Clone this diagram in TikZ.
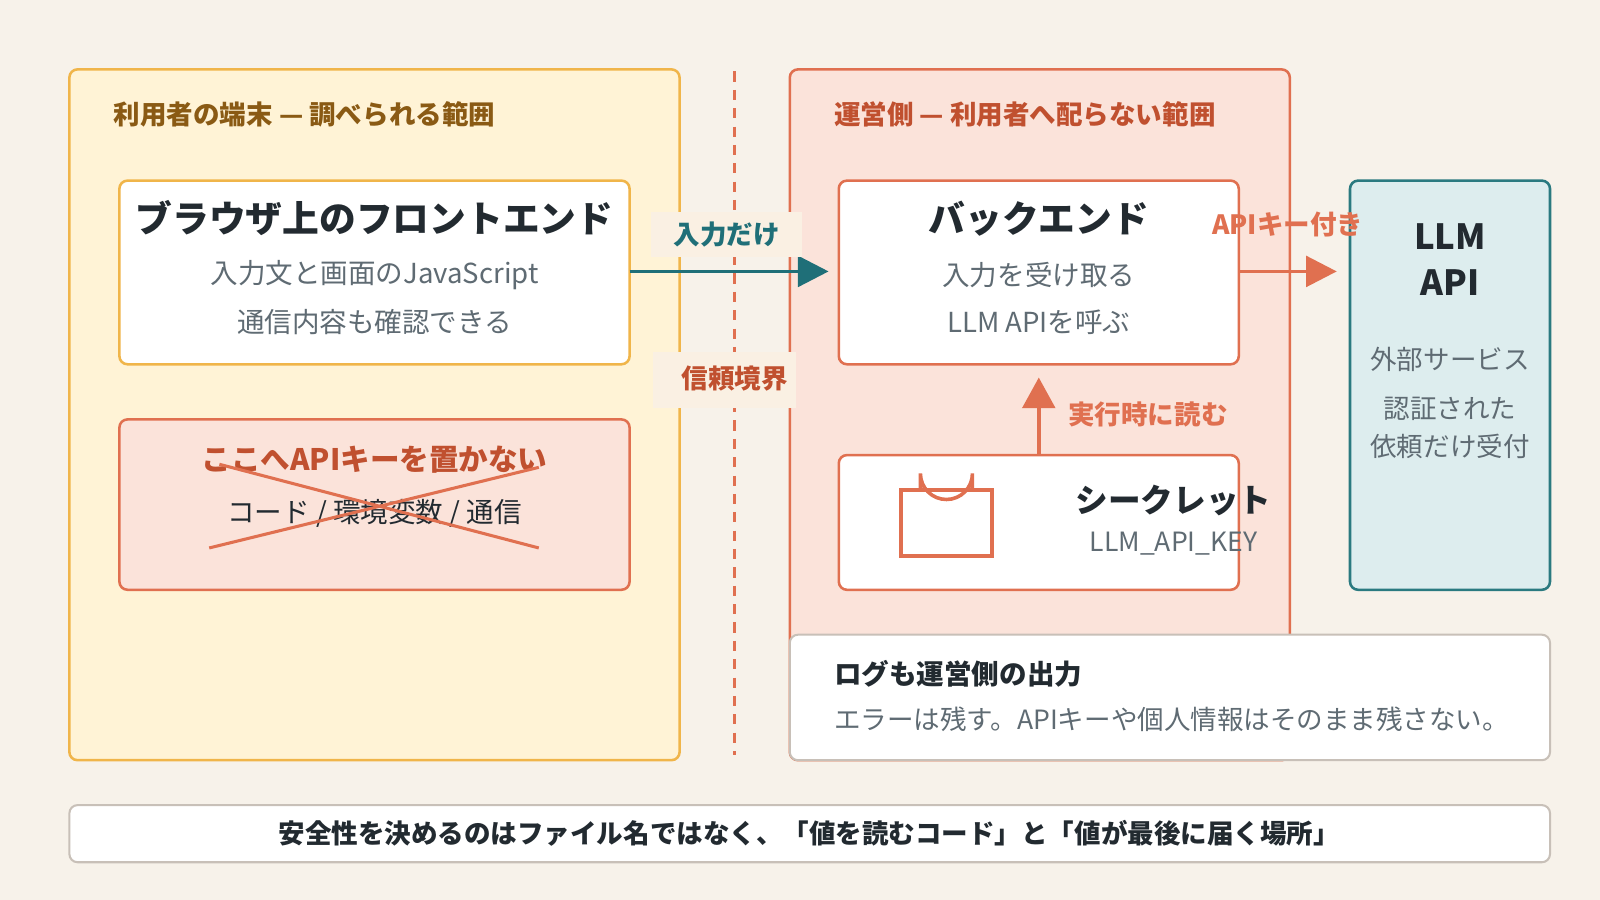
\documentclass[tikz,border=0pt]{standalone}
\usepackage{fontspec}
\setmainfont{Noto Sans CJK JP}
\newfontfamily\jpb{Noto Sans CJK JP Bold}
\usetikzlibrary{arrows.meta}
\definecolor{bg}{HTML}{F7F2EA}
\definecolor{ypan}{HTML}{FFF3D6}
\definecolor{ystr}{HTML}{F0B54A}
\definecolor{ytxt}{HTML}{8A5A14}
\definecolor{rpan}{HTML}{FBE3DA}
\definecolor{rstr}{HTML}{E07050}
\definecolor{rtxt}{HTML}{C0502F}
\definecolor{teal}{HTML}{1F6F78}
\definecolor{tpan}{HTML}{DDEDEE}
\definecolor{tstr}{HTML}{2A7A80}
\definecolor{gtxt}{HTML}{5F6B73}
\definecolor{dtxt}{HTML}{222A30}
\definecolor{gstr}{HTML}{C8C0B8}
\definecolor{lbl}{HTML}{FAF0E3}
\tikzset{
 box/.style={draw, line width=2.5pt, rounded corners=8pt},
 fs/.style={font=\fontsize{#1}{#1}\selectfont},
 bf/.style={font=\fontsize{#1}{#1}\selectfont\bfseries},
 arr/.style={line width=3.5pt, -{Triangle[length=30pt,width=30pt]}},
}
\begin{document}
\begin{tikzpicture}[x=1pt,y=-1pt]
\fill[bg] (0,0) rectangle (1568,882);
\useasboundingbox (0,0) rectangle (1568,882);
% panels
\draw[box, fill=ypan, draw=ystr] (68,68) rectangle (666,745);
\node[bf=26, text=ytxt, anchor=west] (lt) at (108,112) {利用者の端末 — 調べられる範囲};
\draw[box, fill=rpan, draw=rstr] (774,68) rectangle (1264,745);
\node[bf=26, text=rtxt, anchor=west] (rt) at (814,112) {運営側 — 利用者へ配らない範囲};
\coordinate (d1) at (720,70); \coordinate (d2) at (720,740);
\draw[rstr, line width=3pt, dash pattern=on 10pt off 8pt] (d1) -- (d2);
% frontend
\draw[box, fill=white, draw=ystr] (117,177) rectangle (617,357);
\node[bf=36, text=dtxt] (fe) at (367,214) {ブラウザ上のフロントエンド};
\node[fs=27, text=gtxt] at (367,270) {入力文と画面のJavaScript};
\node[fs=27, text=gtxt] at (367,316) {通信内容も確認できる};
\coordinate (feR) at (617,266);
% no key
\draw[box, fill=rpan, draw=rstr] (117,411) rectangle (617,578);
\node[bf=29, text=rtxt] (nk) at (367,450) {ここへAPIキーを置かない};
\node[fs=27, text=dtxt] at (367,503) {コード / 環境変数 / 通信};
\draw[rstr, line width=3pt] (205,537) -- (528,458);
\draw[rstr, line width=3pt] (215,455) -- (528,537);
% backend
\draw[box, fill=white, draw=rstr] (822,177) rectangle (1214,357);
\node[bf=36, text=dtxt] (be) at (1018,214) {バックエンド};
\node[fs=27, text=gtxt] at (1018,270) {入力を受け取る};
\node[fs=27, text=gtxt] at (1018,316) {LLM APIを呼ぶ};
\coordinate (beL) at (812,266); \coordinate (beR) at (1214,266); \coordinate (beB) at (1018,370);
% arrows
\draw[arr, teal] (feR) -- (beL);
\fill[lbl] (638,208) rectangle (786,252);
\node[bf=26, text=teal] (in) at (712,230) {入力だけ};
\fill[lbl] (640,345) rectangle (780,400);
\node[bf=26, text=rtxt] (tb) at (720,371) {信頼境界};
% LLM
\draw[box, fill=tpan, draw=tstr] (1323,177) rectangle (1519,578);
\coordinate (llL) at (1310,266);
\draw[arr, rstr] (beR) -- (llL);
\node[bf=26, text=rstr] (ak) at (1262,220) {APIキー付き};
\node[bf=34, text=dtxt] (llm) at (1421,232) {LLM};
\node[bf=34, text=dtxt] at (1421,277) {API};
\node[fs=26, text=gtxt] at (1421,352) {外部サービス};
\node[fs=26, text=gtxt] at (1421,401) {認証された};
\node[fs=26, text=gtxt] at (1421,437) {依頼だけ受付};
% secret
\draw[box, fill=white, draw=rstr] (822,446) rectangle (1214,578);
\draw[rstr, line width=3.5pt] (883,480) rectangle (972,545);
\draw[rstr, line width=3.5pt] (902,480) -- (902,464) arc[start angle=180, end angle=0, radius=25.5] -- (953,480);
\node[bf=32, text=dtxt] (sc) at (1150,490) {シークレット};
\node[fs=26, text=gtxt] at (1150,533) {LLM\_API\_KEY};
\coordinate (scT) at (1018,446);
\draw[rstr, line width=3.5pt, -{Triangle[length=30pt,width=32pt]}] (scT) -- (beB);
\node[bf=26, text=rstr] (rd) at (1125,406) {実行時に読む};
% log
\draw[box, line width=2pt, fill=white, draw=gstr] (774,622) rectangle (1519,745);
\node[bf=27, text=dtxt, anchor=west] (lg) at (814,660) {ログも運営側の出力};
\node[fs=26, text=gtxt, anchor=west] at (814,705) {エラーは残す。APIキーや個人情報はそのまま残さない。};
% bottom
\draw[box, line width=2pt, fill=white, draw=gstr] (68,789) rectangle (1519,845);
\node[bf=26, text=dtxt] (bt) at (793,817) {安全性を決めるのはファイル名ではなく、「値を読むコード」と「値が最後に届く場所」};
\end{tikzpicture}
\end{document}
